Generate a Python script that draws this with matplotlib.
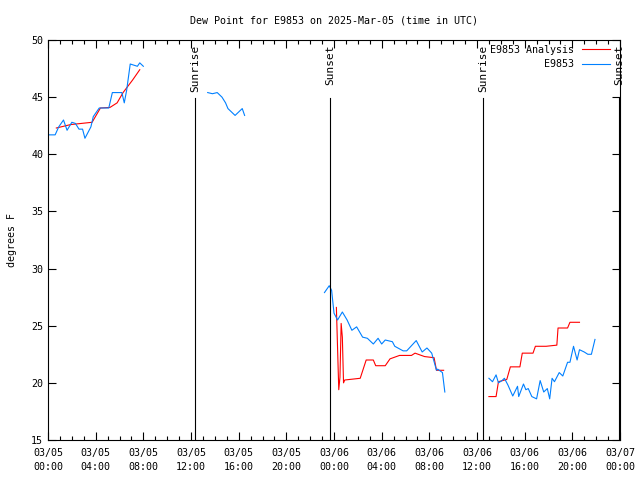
import matplotlib

matplotlib.use("Agg")
import matplotlib.pyplot as plt
import numpy as np

# hours since 2025-03-05 00:00 UTC
obs_hours = [
    0.1, 0.6, 0.9, 1.3, 1.6, 2.0, 2.3, 2.6, 2.9, 3.1, 3.6, 3.8, 4.3, 5.1, 5.4, 6.2, 6.4, 6.6, 6.9, 7.5, 7.7, 8.0,
    None,
    13.4, 13.8, 14.2, 14.6, 14.9, 15.1, 15.7, 16.3, 16.5,
    None,
    23.2, 23.6, 23.8, 24.0, 24.3, 24.7, 25.1, 25.5, 25.9, 26.4, 26.8, 27.3, 27.7, 28.0, 28.3, 28.9, 29.1,
    29.8, 30.1, 30.9, 31.4, 31.8, 32.2, 32.6, 32.7, 33.1, 33.3,
    None,
    37.0, 37.3, 37.6, 37.8, 38.1, 38.3, 38.6, 39.0, 39.4, 39.5, 39.9, 40.1, 40.3, 40.6, 41.0, 41.3, 41.6,
    41.9, 42.1, 42.3, 42.5, 42.9, 43.2, 43.6, 43.8, 44.1, 44.4, 44.6, 45.0, 45.3, 45.6, 45.9,
]
obs_vals = [
    41.7, 41.7, 42.4, 43.0, 42.1, 42.8, 42.7, 42.2, 42.2, 41.4, 42.4, 43.3, 44.05, 44.05, 45.4, 45.4, 44.5, 45.6, 47.9, 47.7, 48.0, 47.7,
    None,
    45.4, 45.3, 45.4, 45.0, 44.5, 44.0, 43.4, 44.0, 43.4,
    None,
    27.9, 28.5, 28.1, 26.1, 25.5, 26.2, 25.5, 24.6, 24.9, 24.0, 23.9, 23.4, 23.9, 23.4, 23.75, 23.6, 23.2,
    22.8, 22.8, 23.7, 22.7, 23.05, 22.6, 21.1, 21.2, 20.9, 19.2,
    None,
    20.4, 20.1, 20.7, 20.0, 20.2, 20.4, 19.8, 18.85, 19.7, 18.8, 19.9, 19.4, 19.5, 18.8, 18.6, 20.2, 19.2,
    19.5, 18.6, 20.4, 20.1, 20.9, 20.6, 21.8, 21.8, 23.2, 22.0, 22.9, 22.7, 22.5, 22.5, 23.8,
]

ana_hours = [
    0.7, 1.9, 3.7, 4.4, 5.2, 5.8, 6.3, 7.1, 7.7,
    None,
    24.2, 24.4, 24.5, 24.6, 24.7, 24.8, 24.9, 26.2, 26.7, 27.3, 27.5, 28.3, 28.7, 29.5, 30.5, 30.8,
    31.6, 32.4, 32.6, 33.2,
    None,
    37.0, 37.6, 37.8, 38.5, 38.8, 39.6, 39.8, 40.7, 40.9, 41.8, 42.7, 42.8, 43.6, 43.8, 44.6,
]
ana_vals = [
    42.3, 42.6, 42.8, 44.05, 44.1, 44.5, 45.4, 46.5, 47.4,
    None,
    26.6, 19.4, 20.5, 25.2, 24.0, 20.0, 20.25, 20.4, 22.0, 22.0, 21.5, 21.5, 22.1, 22.4, 22.4, 22.6,
    22.3, 22.2, 21.1, 21.1,
    None,
    18.8, 18.8, 20.1, 20.3, 21.4, 21.4, 22.6, 22.6, 23.2, 23.2, 23.3, 24.8, 24.8, 25.3, 25.3,
]

sun_hours = [12.35, 23.65, 36.5, 47.9]
sun_labels = ["Sunrise", "Sunset", "Sunrise", "Sunset"]

tick_hours = list(range(0, 49, 4))
tick_labels = ["03/05\n00:00", "03/05\n04:00", "03/05\n08:00", "03/05\n12:00", "03/05\n16:00",
               "03/05\n20:00", "03/06\n00:00", "03/06\n04:00", "03/06\n08:00", "03/06\n12:00",
               "03/06\n16:00", "03/06\n20:00", "03/07\n00:00"]


def to_arr(seq):
    return np.array([np.nan if v is None else v for v in seq], dtype=float)


FS = 7.2
plt.rcParams["font.family"] = "DejaVu Sans Mono"
plt.rcParams["font.size"] = FS

fig = plt.figure(figsize=(6.4, 4.8), dpi=100)
ax = fig.add_axes([48 / 640, 40 / 480, 572 / 640, 400 / 480])

ax.plot(to_arr(ana_hours), to_arr(ana_vals), color="#ff0000", lw=0.8, label="E9853 Analysis")
ax.plot(to_arr(obs_hours), to_arr(obs_vals), color="#0080ff", lw=0.8, label="E9853")

for h, lab in zip(sun_hours, sun_labels):
    ax.plot([h, h], [15, 44.9], color="black", lw=0.8)
    ax.text(h, 49.6, lab, rotation=90, ha="center", va="top", fontsize=8)

ax.set_xlim(0, 48)
ax.set_ylim(15, 50)
ax.set_xticks(tick_hours)
ax.set_xticklabels(tick_labels, linespacing=1.5)
ax.set_xticks(range(0, 49), minor=True)
ax.set_yticks(range(15, 51, 5))
ax.tick_params(which="both", direction="in", top=True, right=True, color="black", width=0.8)
ax.tick_params(which="major", length=6)
ax.tick_params(which="minor", length=3)
ax.tick_params(axis="x", pad=6)
for s in ax.spines.values():
    s.set_linewidth(0.8)

ax.set_title("Dew Point for E9853 on 2025-Mar-05 (time in UTC)", fontsize=FS, pad=12)
ax.set_ylabel("degrees F", fontsize=FS, labelpad=10)

ax.legend(loc="upper right", bbox_to_anchor=(0.9825, 0.988), frameon=False, markerfirst=False,
          handlelength=2.8, handletextpad=0.8, borderpad=0, borderaxespad=0,
          labelspacing=0.45, fontsize=FS)

fig.savefig("out.png", dpi=100, facecolor="white")
